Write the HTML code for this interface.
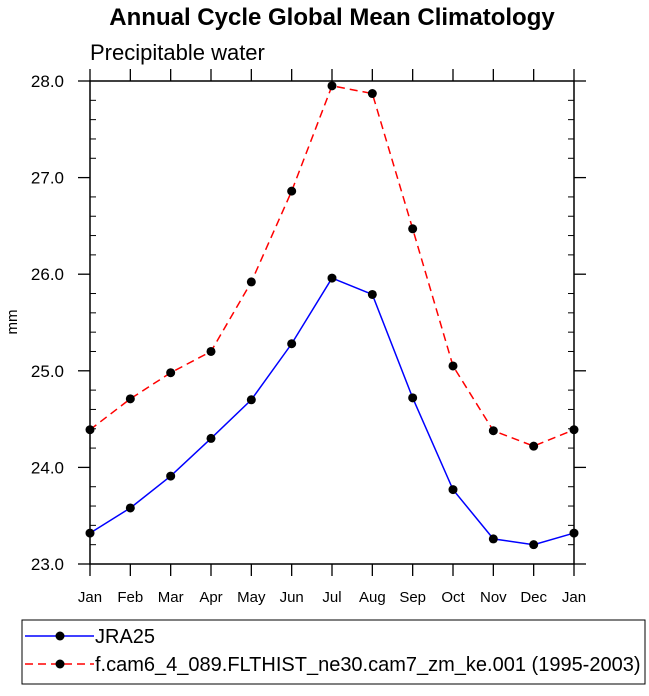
<!DOCTYPE html>
<html><head><meta charset="utf-8"><style>
body{margin:0;background:#fff;}
svg text{font-family:"Liberation Sans",Arial,sans-serif;fill:#000;}
</style></head><body>
<svg id="c" width="649" height="691" xmlns="http://www.w3.org/2000/svg">
<text x="332" y="25" text-anchor="middle" font-size="24" font-weight="bold">Annual Cycle Global Mean Climatology</text>
<text x="90" y="60" font-size="22">Precipitable water</text>
<text transform="translate(17,322) rotate(-90)" text-anchor="middle" font-size="15">mm</text>
<g id="axes"></g>
<g id="series"></g>
<rect x="22" y="620" width="623" height="64" fill="none" stroke="#000" stroke-width="1"/>
<g>
<line x1="25" y1="636" x2="94" y2="636" stroke="#0000ff" stroke-width="1.5"/>
<circle cx="60" cy="636" r="4.5" fill="#000"/>
<text x="95" y="643" font-size="20">JRA25</text></g>
<g>
<line x1="25" y1="664" x2="94" y2="664" stroke="#ff0000" stroke-width="1.5" stroke-dasharray="8,5"/>
<circle cx="60" cy="664" r="4.5" fill="#000"/>
<text x="95" y="671" font-size="20">f.cam6_4_089.FLTHIST_ne30.cam7_zm_ke.001 (1995-2003)</text></g>
</svg>
<script>
const months=["Jan","Feb","Mar","Apr","May","Jun","Jul","Aug","Sep","Oct","Nov","Dec","Jan"];
const jra25=[23.32,23.58,23.91,24.30,24.70,25.28,25.96,25.79,24.72,23.77,23.26,23.20,23.32];
const model=[24.39,24.71,24.98,25.20,25.92,26.86,27.95,27.87,26.47,25.05,24.38,24.22,24.39];
const yTicks=[23.0,24.0,25.0,26.0,27.0,28.0];
const NS="http://www.w3.org/2000/svg";
const X0=90,X1=574,Y0=564,Y1=81,YMIN=23,YMAX=28;
function xs(i){return X0+(X1-X0)*i/(months.length-1);}
function ys(v){return Y0-(v-YMIN)*(Y0-Y1)/(YMAX-YMIN);}
function mk(t,a,p){const e=document.createElementNS(NS,t);for(const k in a)e.setAttribute(k,a[k]);p.appendChild(e);return e;}
const ax=document.getElementById('axes');
const fr=mk('rect',{x:X0,y:Y1,width:X1-X0,height:Y0-Y1,fill:'none',stroke:'#000','stroke-width':1.5},ax);


months.forEach((m,i)=>{
 const x=xs(i);
 const t1=mk('line',{x1:x,y1:Y0,x2:x,y2:Y0+12,stroke:'#000','stroke-width':1.3},ax);
 
 
 mk('line',{x1:x,y1:Y1,x2:x,y2:Y1-12,stroke:'#000','stroke-width':1.3},ax);
 const lb=mk('text',{x:x,y:602,'text-anchor':'middle','font-size':15},ax);
 lb.textContent=m;
 
 
});
yTicks.forEach((v,k)=>{
 const y=ys(v);
 mk('line',{x1:X0-12,y1:y,x2:X0,y2:y,stroke:'#000','stroke-width':1.3},ax);
 mk('line',{x1:X1,y1:y,x2:X1+12,y2:y,stroke:'#000','stroke-width':1.3},ax);
 const lb=mk('text',{x:64,y:y+6,'text-anchor':'end','font-size':17},ax);
 lb.textContent=v.toFixed(1);
 
 
 if(k<yTicks.length-1){for(let j=1;j<5;j++){const yy=ys(v+0.2*j);
  mk('line',{x1:X0,y1:yy,x2:X0+6,y2:yy,stroke:'#000','stroke-width':1},ax);
  mk('line',{x1:X1-6,y1:yy,x2:X1,y2:yy,stroke:'#000','stroke-width':1},ax);}}
});
const sg=document.getElementById('series');
function draw(vals,color,dash,name){
 const pts=vals.map((v,i)=>xs(i)+','+ys(v)).join(' ');
 const pl=mk('polyline',{points:pts,fill:'none',stroke:color,'stroke-width':1.5,'stroke-dasharray':dash},sg);
 
 
 vals.forEach((v,i)=>{const c=mk('circle',{cx:xs(i),cy:ys(v),r:4.5,fill:'#000'},sg);
  
  });
}
draw(model,'#ff0000','8,5','model');
draw(jra25,'#0000ff','none','jra25');
</script>
</body></html>
